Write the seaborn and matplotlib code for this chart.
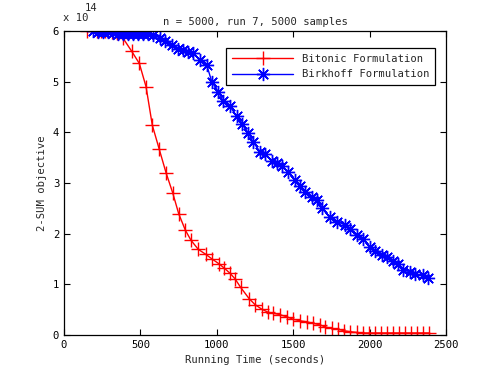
import pandas as pd
import matplotlib
matplotlib.use("Agg")
import matplotlib.pyplot as plt
import seaborn as sns

fs = 7.6

# values, y in units of 1e14
bitonic_t = [150, 216, 242, 268, 314, 347, 386, 443, 493, 537, 578, 622, 668, 711, 751,
             794, 831, 879, 929, 969, 1012, 1049, 1086, 1119, 1156, 1211, 1250, 1294,
             1335, 1370, 1414, 1457, 1501, 1545, 1588, 1632, 1675, 1708, 1752, 1795,
             1832, 1872, 1916, 1957, 1997, 2036, 2075, 2114, 2153, 2192, 2231, 2270,
             2309, 2348, 2390]
bitonic_obj = [6.0, 6.0, 6.0, 6.0, 5.98, 5.96, 5.86, 5.60, 5.36, 4.90, 4.14, 3.68, 3.20,
               2.81, 2.39, 2.07, 1.87, 1.69, 1.59, 1.50, 1.41, 1.32, 1.22, 1.11, 0.94,
               0.72, 0.60, 0.51, 0.45, 0.43, 0.40, 0.36, 0.31, 0.28, 0.26, 0.23, 0.20,
               0.16, 0.13, 0.11, 0.085, 0.065, 0.05, 0.04, 0.04, 0.04, 0.04, 0.04, 0.04,
               0.04, 0.04, 0.04, 0.04, 0.04, 0.04]

birkhoff_t = [192, 224, 257, 290, 323, 355, 388, 421, 454, 486, 519, 552, 584, 628, 661,
              705, 748, 781, 813, 846, 890, 934, 967, 1010, 1043, 1086, 1130, 1163, 1206,
              1239, 1283, 1315, 1359, 1392, 1425, 1468, 1512, 1545, 1577, 1621, 1654,
              1687, 1741, 1789, 1839, 1872, 1916, 1959, 2003, 2035, 2079, 2112, 2155,
              2188, 2221, 2264, 2297, 2351, 2384]
birkhoff_obj = [6.0, 5.99, 5.99, 5.99, 5.97, 5.95, 5.95, 5.95, 5.95, 5.95, 5.95, 5.94,
                5.92, 5.86, 5.80, 5.72, 5.64, 5.62, 5.59, 5.56, 5.43, 5.33, 5.00, 4.80,
                4.61, 4.51, 4.32, 4.17, 3.99, 3.80, 3.62, 3.57, 3.44, 3.39, 3.34, 3.22,
                3.05, 2.94, 2.83, 2.72, 2.66, 2.50, 2.32, 2.24, 2.17, 2.10, 1.97, 1.89,
                1.74, 1.66, 1.58, 1.53, 1.46, 1.40, 1.28, 1.25, 1.20, 1.18, 1.12]

x_ticks = [0, 500, 1000, 1500, 2000, 2500]
y_ticks = [0, 1, 2, 3, 4, 5, 6]

df_b = pd.DataFrame({"t": bitonic_t, "v": bitonic_obj})
df_k = pd.DataFrame({"t": birkhoff_t, "v": birkhoff_obj})

sns.set_style("ticks")
matplotlib.rcParams["font.family"] = ["DejaVu Sans Mono"]
matplotlib.rcParams["xtick.direction"] = "in"
matplotlib.rcParams["ytick.direction"] = "in"

fig = plt.figure(figsize=(4.95, 3.75), dpi=100)
ax = fig.add_axes([64 / 495, 40 / 375, 382 / 495, 304 / 375])

sns.lineplot(data=df_b, x="t", y="v", ax=ax, color="#ff0000", marker="+",
             markersize=9.5, markeredgewidth=1, markeredgecolor="#ff0000",
             linewidth=1, estimator=None, label="Bitonic Formulation")
sns.lineplot(data=df_k, x="t", y="v", ax=ax, color="#0000ff", marker=(8, 2, 0),
             markersize=9.5, markeredgewidth=1, markeredgecolor="#0000ff",
             linewidth=1, estimator=None, label="Birkhoff Formulation")

ax.set_xlim(0, 2500)
ax.set_ylim(0, 6)
ax.set_xticks(x_ticks)
ax.set_yticks(y_ticks)
ax.tick_params(labelsize=fs, top=True, right=True, length=4, width=0.8, colors="k")
for s in ax.spines.values():
    s.set_color("k")
    s.set_linewidth(0.9)

ax.set_xlabel("Running Time (seconds)", fontsize=fs)
ax.set_ylabel("2-SUM objective", fontsize=fs)
ax.set_title("n = 5000, run 7, 5000 samples", fontsize=fs, pad=4)

# matlab style exponent label
fig.text(63 / 495, 1 - 18 / 375, "x 10", fontsize=fs, ha="left", va="center")
fig.text(85 / 495, 1 - 8 / 375, "14", fontsize=fs, ha="left", va="center")

leg = ax.legend(loc="upper right", fontsize=fs, handlelength=5.8, borderpad=0.55,
                labelspacing=0.55, fancybox=False, framealpha=1,
                bbox_to_anchor=(0.985, 0.962))
leg.get_frame().set_edgecolor("k")
leg.get_frame().set_linewidth(0.9)

fig.savefig("out.png", dpi=100)
